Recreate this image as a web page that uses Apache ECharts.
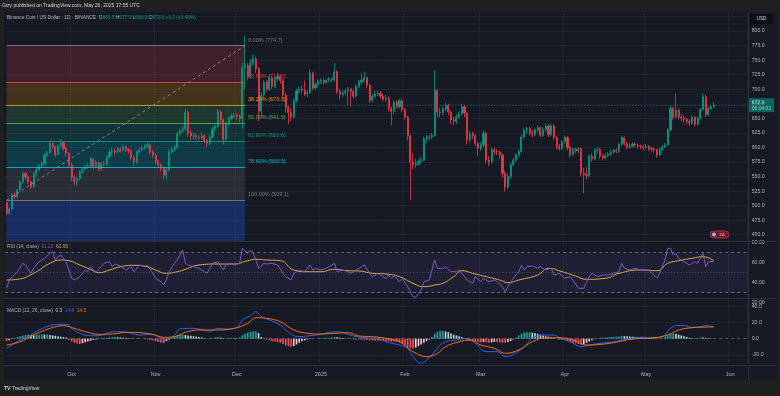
<!DOCTYPE html>
<html><head><meta charset="utf-8">
<script src="https://cdn.jsdelivr.net/npm/echarts@6/dist/echarts.min.js"></script>
<style>html,body{margin:0;padding:0;background:#202020;}#c{width:780px;height:396px;}</style>
</head><body><div id="c"></div>
<script>
// ---------- DATA ----------
const startDate = '2024-09-07';      // first daily candle
const dateCount = 274;               // categories incl. empty right margin
const firstOpen = 505;
const closes = [
487,494,519,515,527,541,555,549,541,533,
555,561,568,572,587,591,607,601,588,603,
608,598,590,570,549,541,546,558,563,567,
568,580,567,574,563,572,571,584,592,594,
592,597,595,601,596,594,583,575,592,596,
599,602,604,592,587,576,570,564,552,561,
592,597,600,624,629,632,660,625,620,620,
618,617,620,612,607,618,632,636,661,647,
614,641,650,654,655,653,650,737,740,722,
745,752,735,662,690,712,700,720,705,718,
722,715,690,668,660,652,680,697,700,698,
692,694,728,702,708,714,715,712,715,717,
716,730,696,691,694,697,700,696,688,705,
712,716,720,707,681,688,692,693,688,683,
685,667,662,678,670,680,665,652,620,575,
570,573,576,578,615,618,618,621,698,661,
660,666,672,661,647,645,653,658,670,659,
613,624,620,607,598,604,624,578,576,596,
593,592,587,555,532,550,570,578,587,593,
618,630,632,625,622,630,634,621,631,637,
622,637,617,602,598,610,617,600,588,597,
594,598,556,553,552,585,580,595,597,585,
582,586,589,592,595,594,605,617,607,600,
603,606,604,602,601,600,602,598,597,596,
587,597,601,604,630,667,652,664,652,650,
648,645,642,652,640,650,665,687,656,667,
669.5,672.6];
const highs = [
507,497,522,523,530,544,559,558,552,543,
558,565,572,577,590,595,611,612,603,606,
614,610,600,592,574,552,550,561,566,570,
573,584,582,578,576,575,576,587,596,600,
598,601,600,605,604,599,597,586,595,600,
603,606,609,607,596,590,579,573,567,565,
597,601,604,627,633,637,667,663,630,626,
624,622,626,623,615,622,636,641,666,664,
650,645,653,658,660,659,657,745,792,745,
752,760,756,738,695,716,716,725,722,722,
728,725,718,694,672,668,684,701,705,706,
715,699,734,730,712,718,719,719,718,721,
720,745,733,700,698,701,704,703,700,709,
716,728,730,722,710,692,697,698,697,692,
690,688,670,681,682,684,683,668,655,622,
590,580,580,584,619,622,622,625,733,700,
668,670,677,675,664,652,657,662,675,673,
660,628,627,622,610,609,630,627,585,600,
600,597,595,590,560,556,574,582,590,597,
622,634,636,635,630,633,638,636,635,641,
640,641,640,620,606,613,620,619,603,600,
600,601,600,565,566,588,590,598,601,599,
588,590,592,596,598,599,608,620,619,610,
607,609,609,607,605,605,606,604,601,600,
598,600,604,608,633,672,670,693,667,658,
655,651,648,655,654,653,668,693,690,670,
673,677.9];
const lows = [
484,485,492,511,512,524,538,545,537,528,
530,549,559,565,569,584,589,597,584,586,
600,595,585,566,543,535,535,543,555,560,
563,566,563,565,559,560,567,569,581,588,
587,590,591,593,592,589,579,568,572,589,
593,596,598,588,582,571,566,558,545,544,
559,588,593,598,620,625,628,618,612,614,
613,612,614,607,600,604,615,628,633,640,
605,611,637,646,650,648,643,632,700,715,
718,740,728,645,650,686,695,697,700,702,
713,709,685,660,640,645,650,677,692,693,
688,686,692,698,699,704,709,707,709,712,
711,713,692,682,686,690,672,670,684,686,
702,708,712,702,676,677,684,688,684,679,
678,662,638,657,666,667,660,648,612,510,
562,565,568,572,576,608,612,614,619,652,
652,655,663,655,640,638,641,649,655,652,
605,608,614,602,585,594,600,572,568,572,
588,587,580,548,524,528,546,567,574,583,
590,614,624,620,617,619,626,618,618,627,
618,619,612,597,594,596,607,595,583,585,
590,590,550,521,545,548,575,578,590,580,
578,579,583,586,589,590,591,603,603,597,
598,600,600,598,597,595,597,594,593,591,
582,585,594,599,603,628,648,650,648,645,
643,640,637,639,636,638,648,663,652,654,
664,668.3];
// RSI(14) and its moving average, [day index, value]
const rsiPoints = [[0,34.4],[1,42.7],[4,51],[6,59.4],[7,57.7],[9,49.4],[10,54.4],[12,61],[14,64.4],[16,69.4],[17,71],[18,62.7],[19,66],[20,67.7],[22,61],[23,52.7],[24,44.4],[25,42.7],[27,46],[29,52.7],[30,51],[31,56],[33,50],[34,53.4],[36,59.4],[38,61],[39,56],[40,58.7],[42,56.7],[44,52.7],[46,56],[47,51],[49,57.7],[51,56],[52,57.7],[54,49.4],[55,44.4],[57,41],[58,37.7],[59,42.7],[60,51],[62,59.4],[63,62.7],[65,72.7],[66,59.4],[67,57.7],[69,56],[71,54.4],[73,51],[74,49.4],[75,54.4],[76,59.4],[78,61],[80,52.7],[81,57.7],[83,59.4],[84,57.7],[86,59.4],[87,74.4],[89,69.4],[90,72.7],[91,70],[92,62.7],[93,54.4],[95,59.4],[96,58.7],[98,59.4],[100,57.7],[102,49.4],[103,46],[105,42.7],[106,49.4],[108,52.7],[110,51],[112,57.7],[113,52.7],[114,54.4],[116,52.7],[118,54.4],[121,59.4],[122,51],[124,52.7],[126,51],[127,49.4],[129,52.7],[131,56],[132,57.7],[134,49.4],[135,46],[137,49.4],[138,47.7],[140,44],[141,47.7],[142,44.4],[143,46.7],[145,41],[146,44.4],[148,36],[149,31],[150,26],[151,25.4],[153,32.7],[154,41],[156,42.7],[158,62.7],[159,54.4],[161,54.4],[162,56],[164,51],[166,51],[167,52.7],[170,42.7],[171,41],[172,39.4],[173,46],[175,41],[176,44.4],[178,41],[180,42.7],[181,41],[183,36],[184,31],[185,36],[187,44.4],[189,51],[190,57.7],[191,52.7],[192,56],[194,56.7],[196,54.4],[197,56],[199,52.7],[201,54.4],[202,47.7],[204,49.4],[206,44.4],[208,46],[209,42.7],[211,34.4],[213,34.4],[215,46],[216,49.4],[218,46],[220,47.7],[222,47.7],[224,49.4],[226,51],[227,59.4],[228,54.4],[230,52.7],[232,54.4],[234,52.7],[236,52.7],[237,52.7],[240,44.4],[241,49.4],[243,62.7],[244,74.4],[245,74.4],[246,67.7],[247,69.4],[248,64.4],[250,61],[252,57.7],[254,61],[255,59.4],[257,69.4],[258,56],[259,61],[261,61.23]];
const rsiMaPoints = [[0,42.7],[4,43.4],[10,49.4],[16,59.4],[20,62.7],[23,62],[27,57.7],[31,53.4],[34,50],[38,52.7],[42,56],[47,57.4],[52,56],[55,52.7],[59,49.4],[63,51],[66,53.4],[71,57.7],[78,58.7],[84,58.7],[89,62],[92,63.4],[96,62.7],[101,62],[106,52.7],[111,51],[116,51],[121,53.4],[126,52],[130,51.7],[135,49.4],[140,48.7],[145,46],[150,39.4],[154,36],[158,37.7],[161,39.4],[165,46],[168,52],[172,49.4],[177,46],[182,42.7],[185,40],[189,42.7],[196,47.7],[200,54.4],[205,51],[210,46.7],[214,43.4],[221,44.4],[226,49.4],[234,52.7],[240,52],[244,59.4],[248,62],[253,64.4],[257,66],[261,61.95]];
// MACD(12,26): histogram per day, MACD and signal lines as [day index, value]
const macdHist = [
-3,-2,0.5,1,2,3,4,4.5,5,4.5,
4,4.5,5,5.5,5,5,4.5,4,3.5,3,
2.5,2,1.5,-1.5,-3,-5,-6,-6.5,-5.5,-4.5,
-3.5,-2.5,-1.5,-1,-0.5,0.5,0.8,1.2,1.5,2,
2,1.8,1.5,1.2,1,0.8,0.3,-0.5,-0.5,-0.3,
-0.2,-0.5,-1,-1.5,-2,-3,-4,-5,-5.5,-3,
-1,1,3,4,5,5,4.5,4,3.5,3,
2.5,2,1.5,0.5,-0.5,-0.5,0.5,1.5,2,1.5,
0.5,0.5,1,1,1,1,1.5,4,6,7.5,
8.5,9,9,7,2,0.5,-1,-2,-3,-3.5,
-4,-5,-6.5,-8,-9,-10,-9,-7,-5,-3,
-2,-1,-0.5,-0.5,0,0.3,0.5,0.8,1,1.2,
1.5,2,1.8,1.2,0.8,0.5,0,-0.5,-0.8,-1,
-1,-1.2,-1,-1.5,-2,-2.2,-2.5,-2.5,-2.5,-2.8,
-3,-3.2,-3.5,-3.5,-4,-4.5,-6,-8,-10,-11.5,
-12,-11,-9,-7,-5,-3,-1,2,6,8.5,
9.5,9.5,9,8,6.5,5,4,3,2,0.5,
-1.5,-2.5,-3,-3.5,-4,-4.5,-4,-4.5,-5,-4.5,
-4,-4,-4.5,-5,-5,-4,-3,-1,1.5,4,
6,7.5,8,8,7.5,7,6,5,4,3,
2.5,1.5,0.5,-0.5,-1,-1.5,-1.5,-3,-4,-5,
-5.5,-6.5,-7,-6.5,-5,-3.5,-2,-0.5,0.5,1,
1.5,1.5,1.8,2,2.2,2.5,2.8,3.5,3.2,3,
2.8,2.5,2.2,2,1.8,1.5,1.2,1,0.8,0.5,
0.2,0.2,0.5,2,4,6,6.5,6,5,4,
3,2,1.2,0.5,0.2,0.3,1.5,2,1,0.5,
0.3,0.3];
const macdPoints = [[0,-11.8],[1,-9.8],[5,-1.6],[9,4.5],[12,10.7],[16,16],[20,17.6],[22,17.6],[24,12.7],[27,6.6],[31,3.7],[34,3.7],[38,7.8],[42,8.6],[46,6.6],[49,4.5],[53,5.3],[57,1.2],[59,-0.8],[62,4.5],[64,11.9],[68,12.7],[71,11.9],[75,9.4],[78,12.7],[81,11.9],[85,13.5],[87,22.9],[90,28.2],[92,33.2],[94,27],[97,22.9],[101,16.8],[103,10.7],[106,3.7],[108,2.5],[112,3.7],[116,5.3],[119,7.8],[122,8.6],[126,5.3],[129,2.5],[133,1.2],[137,0.4],[140,-3.7],[145,-7.8],[148,-11.8],[150,-22.1],[153,-30.2],[155,-26.2],[158,-15.9],[160,-7.8],[162,-3.7],[166,-1.6],[170,0.4],[173,-5.7],[177,-15.9],[181,-15.9],[184,-22.1],[187,-19.2],[191,-9.8],[194,0.4],[198,4.5],[202,4.5],[204,1.2],[208,-3.7],[212,-9.8],[215,-7.8],[219,-5.7],[224,-3.7],[229,-0.4],[234,1.7],[239,1.2],[242,2.5],[245,12.7],[247,16],[250,16],[253,13.9],[256,14.7],[258,16],[261,14.8]];
const signalPoints = [[0,-7.8],[5,-3.7],[10,4.5],[16,12.7],[21,16],[25,12.7],[30,7.8],[34,5.3],[39,5.7],[44,7.8],[49,7.4],[54,5.3],[58,1.7],[62,2.5],[66,7.8],[71,10.7],[78,10.7],[84,12.7],[89,18.8],[92,25.8],[96,25],[101,20.9],[106,10.7],[111,6.6],[116,5.7],[121,6.6],[126,7.4],[130,3.3],[135,2.5],[140,0.4],[145,-3.7],[150,-15.9],[155,-22.1],[159,-18],[162,-9.8],[167,-3.7],[171,-1.6],[175,-7.8],[180,-11.8],[184,-18],[189,-13.9],[194,-3.7],[199,1.2],[204,1.2],[209,-1.6],[214,-7.8],[219,-7],[224,-4.9],[231,-0.4],[239,1.2],[244,4.5],[248,10.7],[253,13.5],[258,14.3],[261,14.5]];
// Fibonacci retracement drawn on the chart
const fibStartIdx = 0, fibEndIdx = 88;
const fibLabels = ['0.00%','23.60%','38.20%','50.00%','61.80%','78.60%','100.00%'];
const fibPrices = [774.7, 712.0, 673.3, 641.9, 610.6, 566.0, 509.1];
const priceTickLabels = [450,475,500,525,550,575,600,625,650,675,700,725,750,775,800];
const monthNames = ['Jan','Feb','Mar','Apr','May','Jun','Jul','Aug','Sep','Oct','Nov','Dec'];

// ---------- STYLE ----------
const FONT = '"Liberation Sans", Arial, sans-serif';
const UP = '#089981', DOWN = '#f23645';
const GRID_LINE = '#1f2331';
const AXIS_TXT = '#b2b5be';
const CLEAR = 'rgba(0,0,0,0)';
const fibLineColors = ['#787b86','#f23645','#ff9800','#4caf50','#089981','#00bcd4','#787b86'];
const fibFillColors = ['rgba(242,54,69,0.2)','rgba(255,152,0,0.2)','rgba(76,175,80,0.2)','rgba(8,153,129,0.2)','rgba(0,188,212,0.2)','rgba(120,123,134,0.2)','rgba(41,98,255,0.28)'];
const PRICE_MIN = 437.5, PRICE_MAX = 837.5;

// ---------- BUILD ----------
const dates = [];
const t0 = Date.parse(startDate + 'T00:00:00Z');
for (let k = 0; k < dateCount; k++) dates.push(new Date(t0 + k * 86400000).toISOString().slice(0, 10));
const isMonthStart = (i, v) => typeof v === 'string' && v.slice(8, 10) === '01';

const candles = closes.map((c, i) => [i === 0 ? firstOpen : closes[i - 1], c, lows[i], highs[i]]);
const lastClose = closes[closes.length - 1];

const histData = macdHist.map((v, i) => {
  const p = i === 0 ? v : macdHist[i - 1];
  const col = v >= 0 ? (v >= p ? '#26a69a' : '#b2dfdb') : (v <= p ? '#ff5252' : '#ffcdd2');
  return { value: [i, v], itemStyle: { color: col } };
});

// fib zones
const fibZones = [];
for (let k = 0; k < fibPrices.length; k++) {
  const top = fibPrices[k];
  const bottom = k + 1 < fibPrices.length ? fibPrices[k + 1] : PRICE_MIN;
  fibZones.push([
    { xAxis: dates[fibStartIdx], yAxis: top, itemStyle: { color: fibFillColors[k] } },
    { xAxis: dates[fibEndIdx], yAxis: bottom }
  ]);
}
const markLines = [];
fibPrices.forEach((p, k) => {
  markLines.push([
    { coord: [dates[fibStartIdx], p], lineStyle: { color: fibLineColors[k], width: 1, type: 'solid', opacity: 0.9 }, label: { show: false } },
    { coord: [dates[fibEndIdx], p] }
  ]);
  markLines.push([
    { coord: [dates[fibEndIdx], p], lineStyle: { color: CLEAR, width: 1, type: 'solid' },
      label: { show: true, position: 'insideStartTop', distance: [3, 2.5], formatter: fibLabels[k] + ' (' + p.toFixed(1) + ')',
        color: fibLineColors[k], fontSize: 5.5, fontFamily: FONT } },
    { coord: [dates[fibEndIdx + 40], p] }
  ]);
});
// diagonal trend line of the fib tool
markLines.push([
  { coord: [dates[fibStartIdx], fibPrices[6]], lineStyle: { color: '#9598a1', width: 1, type: [3, 3], opacity: 0.8 }, label: { show: false } },
  { coord: [dates[fibEndIdx], fibPrices[0]] }
]);
// last price line + label
markLines.push({
  yAxis: lastClose,
  lineStyle: { color: UP, width: 1, type: [1, 2], opacity: 0.6 },
  label: { show: true, position: 'end', distance: 1, formatter: lastClose.toFixed(1) + '\n06:04:02',
    backgroundColor: UP, color: '#ffffff', fontSize: 5, lineHeight: 6, padding: [1, 3, 1, 3], fontFamily: FONT }
});

function xAxisCfg(gi, showLabels) {
  return {
    type: 'category', gridIndex: gi, data: dates, boundaryGap: true,
    axisLine: { show: false }, axisTick: { show: false },
    axisLabel: showLabels ? {
      show: true, interval: isMonthStart, margin: 8, color: AXIS_TXT, fontSize: 5.5, fontFamily: FONT,
      formatter: v => { const m = +v.slice(5, 7); return m === 1 ? v.slice(0, 4) : monthNames[m - 1]; }
    } : { show: false },
    splitLine: { show: true, interval: isMonthStart, lineStyle: { color: GRID_LINE, width: 1 } }
  };
}

const option = {
  animation: false,
  backgroundColor: '#161a25',
  grid: [
    { left: 5.2, right: 32.3, top: 9.2, height: 232.8 },
    { left: 5.2, right: 32.3, top: 242.7, height: 60 },
    { left: 5.2, right: 32.3, top: 297.95, height: 65.2 }
  ],
  xAxis: [xAxisCfg(0, false), xAxisCfg(1, false), xAxisCfg(2, true)],
  yAxis: [
    { type: 'value', gridIndex: 0, position: 'right', min: PRICE_MIN, max: PRICE_MAX, interval: 12.5,
      axisLine: { show: false }, axisTick: { show: false },
      axisLabel: { margin: 4, color: AXIS_TXT, fontSize: 5.2, fontFamily: FONT,
        formatter: v => priceTickLabels.indexOf(v) >= 0 ? v.toFixed(1) : '' },
      splitLine: { show: true, lineStyle: { color: [CLEAR, GRID_LINE], width: 1 } } },
    { type: 'value', gridIndex: 1, position: 'right', min: 20, max: 80, interval: 10,
      axisLine: { show: false }, axisTick: { show: false },
      axisLabel: { margin: 4, color: AXIS_TXT, fontSize: 5.2, fontFamily: FONT,
        formatter: v => (v % 20 === 0) ? v.toFixed(2) : '' },
      splitLine: { show: false } },
    { type: 'value', gridIndex: 2, position: 'right', min: -30, max: 50, interval: 10,
      axisLine: { show: false }, axisTick: { show: false },
      axisLabel: { margin: 4, color: AXIS_TXT, fontSize: 5.2, fontFamily: FONT,
        formatter: v => (v === -20 || v === 0 || v === 20 || v === 40) ? v.toFixed(1) : '' },
      splitLine: { show: true, lineStyle: { color: [CLEAR, GRID_LINE, CLEAR, CLEAR, CLEAR, GRID_LINE, CLEAR, GRID_LINE, CLEAR], width: 1 } } }
  ],
  series: [
    { type: 'candlestick', xAxisIndex: 0, yAxisIndex: 0, data: candles, barWidth: 1.6,
      itemStyle: { color: UP, color0: DOWN, borderColor: UP, borderColor0: DOWN, borderWidth: 0.8 },
      markArea: { silent: true, data: fibZones },
      markLine: { silent: true, symbol: ['none', 'none'], animation: false, data: markLines } },
    { type: 'line', name: 'RSI', xAxisIndex: 1, yAxisIndex: 1, data: rsiPoints, showSymbol: false,
      lineStyle: { color: '#7e57c2', width: 1 }, z: 4,
      markArea: { silent: true, itemStyle: { color: 'rgba(126,87,194,0.1)' }, data: [[{ yAxis: 70 }, { yAxis: 30 }]] },
      markLine: { silent: true, symbol: ['none', 'none'], label: { show: false },
        data: [
          { yAxis: 70, lineStyle: { color: '#787b86', type: [3, 3], width: 1, opacity: 0.8 } },
          { yAxis: 50, lineStyle: { color: '#787b86', type: [1, 2], width: 1, opacity: 0.5 } },
          { yAxis: 30, lineStyle: { color: '#787b86', type: [3, 3], width: 1, opacity: 0.8 } }
        ] } },
    { type: 'line', name: 'RSI MA', xAxisIndex: 1, yAxisIndex: 1, data: rsiMaPoints, showSymbol: false, smooth: 0.5,
      lineStyle: { color: '#d9ad3c', width: 1 }, z: 3 },
    { type: 'bar', name: 'Histogram', xAxisIndex: 2, yAxisIndex: 2, data: histData, barWidth: 1.6,
      markLine: { silent: true, symbol: ['none', 'none'], label: { show: false },
        data: [{ yAxis: 0, lineStyle: { color: '#787b86', type: [3, 3], width: 1, opacity: 0.6 } }] } },
    { type: 'line', name: 'MACD', xAxisIndex: 2, yAxisIndex: 2, data: macdPoints, showSymbol: false, smooth: 0.4,
      lineStyle: { color: '#2962ff', width: 1 }, z: 4 },
    { type: 'line', name: 'Signal', xAxisIndex: 2, yAxisIndex: 2, data: signalPoints, showSymbol: false, smooth: 0.4,
      lineStyle: { color: '#ff6d00', width: 1 }, z: 4 }
  ],
  graphic: [
    // outer frame
    { type: 'rect', shape: { x: 0, y: 0, width: 780, height: 12 }, style: { fill: '#202020' }, z: 100, silent: true },
    { type: 'rect', shape: { x: 0, y: 380, width: 780, height: 16 }, style: { fill: '#202020' }, z: 100, silent: true },
    { type: 'rect', shape: { x: 0, y: 0, width: 4, height: 396 }, style: { fill: '#202020' }, z: 100, silent: true },
    { type: 'rect', shape: { x: 777, y: 0, width: 3, height: 396 }, style: { fill: '#202020' }, z: 100, silent: true },
    // pane separators
    { type: 'line', shape: { x1: 4, y1: 241.5, x2: 777, y2: 241.5 }, style: { stroke: '#2a2e39', lineWidth: 1 }, z: 50, silent: true },
    { type: 'line', shape: { x1: 4, y1: 298.5, x2: 777, y2: 298.5 }, style: { stroke: '#2a2e39', lineWidth: 1 }, z: 50, silent: true },
    { type: 'line', shape: { x1: 4, y1: 365.5, x2: 777, y2: 365.5 }, style: { stroke: '#2a2e39', lineWidth: 1 }, z: 50, silent: true },
    { type: 'line', shape: { x1: 748.5, y1: 12, x2: 748.5, y2: 380 }, style: { stroke: '#2a2e39', lineWidth: 1 }, z: 50, silent: true },
    // header
    { type: 'text', x: 2, y: 6, z: 101, silent: true,
      style: { text: 'Gizy published on TradingView.com, May 26, 2025 17:55 UTC', fill: '#d1d4dc', fontSize: 5, fontFamily: FONT, verticalAlign: 'middle' } },
    { type: 'text', x: 7, y: 17.5, z: 101, silent: true,
      style: { text: '{g|Binance Coin / US Dollar · 1D · BINANCE}  {g|O}{v|669.5} {g|H}{v|677.9} {g|L}{v|668.3} {g|C}{v|672.6} {v|+3.2 (+0.48%)}',
        fontSize: 4.8, fontFamily: FONT, verticalAlign: 'middle',
        rich: { g: { fill: '#b2b5be', fontSize: 4.8, fontFamily: FONT }, v: { fill: '#089981', fontSize: 4.8, fontFamily: FONT } } } },
    { type: 'text', x: 7, y: 246.7, z: 101, silent: true,
      style: { text: '{g|RSI (14, close)}  {a|61.23}  {b|61.95}', fontSize: 4.8, fontFamily: FONT, verticalAlign: 'middle',
        rich: { g: { fill: '#b2b5be', fontSize: 4.8, fontFamily: FONT }, a: { fill: '#7e57c2', fontSize: 4.8, fontFamily: FONT }, b: { fill: '#d9ad3c', fontSize: 4.8, fontFamily: FONT } } } },
    { type: 'text', x: 7, y: 310.7, z: 101, silent: true,
      style: { text: '{g|MACD (12, 26, close)}  {h|0.3}  {a|14.8}  {b|14.5}', fontSize: 4.8, fontFamily: FONT, verticalAlign: 'middle',
        rich: { g: { fill: '#b2b5be', fontSize: 4.8, fontFamily: FONT }, h: { fill: '#b2dfdb', fontSize: 4.8, fontFamily: FONT }, a: { fill: '#2962ff', fontSize: 4.8, fontFamily: FONT }, b: { fill: '#ff6d00', fontSize: 4.8, fontFamily: FONT } } } },
    // USD box
    { type: 'rect', shape: { x: 750, y: 14, width: 23, height: 10, r: 1 }, style: { fill: '#0c0e15' }, z: 101, silent: true },
    { type: 'text', x: 761.5, y: 19, z: 102, silent: true,
      style: { text: 'USD', fill: '#d1d4dc', fontSize: 4.8, fontFamily: FONT, align: 'center', verticalAlign: 'middle' } },
    // event badge
    { type: 'rect', shape: { x: 710, y: 231, width: 19, height: 7, r: 3.5 }, style: { fill: '#6e1c28', stroke: '#c2303f', lineWidth: 0.8 }, z: 101, silent: true },
    { type: 'circle', shape: { cx: 714, cy: 234.5, r: 2 }, style: { fill: '#9bb8e8' }, z: 102, silent: true },
    { type: 'text', x: 722, y: 234.7, z: 102, silent: true,
      style: { text: '111', fill: '#f0c8cc', fontSize: 4, fontFamily: FONT, align: 'center', verticalAlign: 'middle' } },
    // footer logo
    { type: 'text', x: 4, y: 388.5, z: 101, silent: true,
      style: { text: '{l|TV} {t|TradingView}', fontSize: 5, fontFamily: FONT, verticalAlign: 'middle',
        rich: { l: { fill: '#d1d4dc', fontSize: 5, fontWeight: 'bold', fontFamily: FONT }, t: { fill: '#d1d4dc', fontSize: 5, fontFamily: FONT } } } }
  ]
};

const chart = echarts.init(document.getElementById('c'), null, { renderer: 'canvas', width: 780, height: 396 });
chart.setOption(option);
</script>
</body></html>
